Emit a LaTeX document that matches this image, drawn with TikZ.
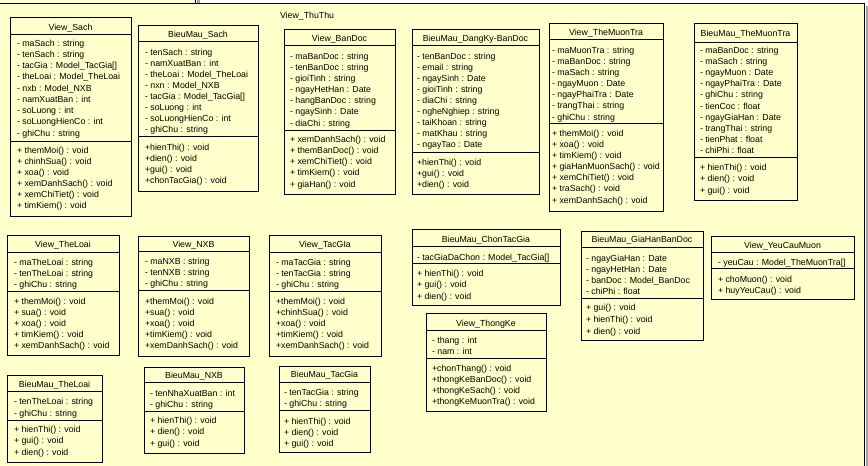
\documentclass[tikz,border=0pt]{standalone}
\usepackage{fontspec}
\setmainfont{Liberation Sans}
\definecolor{pkgfill}{HTML}{FFFFCC}
\definecolor{pkgshade}{HTML}{A0A0A0}
\tikzset{
  classbox/.style={draw=black, line width=0.9pt, fill=pkgfill, inner sep=0pt, outer sep=0pt, anchor=north west},
  umltext/.style={font=\fontsize{8.8}{10}\selectfont, inner sep=0pt, outer sep=0pt},
  row/.style={umltext, anchor=base west},
  ctitle/.style={umltext, anchor=base},
  sepline/.style={line width=0.9pt},
  pkgline/.style={draw=black, line width=0.9pt, fill=pkgfill}
}
% one class: id, left, top, right, bottom, separator 1, separator 2, name, name baseline
\newcommand\umlclass[9]{%
  \node[classbox, minimum width={(#4-#2)*1pt}, minimum height={(#5-#3)*1pt}] (#1) at (#2,#3) {};
  \draw[sepline] (#2,#6) -- (#4,#6);
  \draw[sepline] (#2,#7) -- (#4,#7);
  \node[ctitle] (#1-name) at ({(#2+#4)/2},#9) {#8};
}
% rows of a compartment: id, kind, left, first baseline, spacing, entries
\newcommand\umlrows[6]{%
  \foreach \rowtext [count=\k from 0] in {#6}{%
    \node[row] (#1-#2\k) at (#3,{#4+\k*#5}) {\rowtext};
  }%
}
\begin{document}
\begin{tikzpicture}[x=1pt, y=-1pt]
\useasboundingbox (0,0) rectangle (868,466);
\fill[white] (0,0) rectangle (868,466);

% package frame with its tab and drop shadow
\fill[pkgshade] (197,0) rectangle (200,3);
\fill[pkgshade] (865.5,6) rectangle (868,466);
\draw[pkgline] (-3,-5) rectangle (195,3);
\draw[pkgline] (-3,3) rectangle (864,470);
\node[row] (pkg-name) at (280,18) {View\_ThuThu};

% ---- upper row ----
\umlclass{vsach}{10}{17}{131}{216}{34}{141}{View\_Sach}{30}
\umlrows{vsach}{a}{17}{46}{11.25}{- maSach : string, - tenSach : string, - tacGia : Model\_TacGia[], - theLoai : Model\_TheLoai, - nxb : Model\_NXB, - namXuatBan : int, - soLuong : int, - soLuongHienCo : int, - ghiChu : string}
\umlrows{vsach}{m}{17}{153}{11}{+ themMoi() : void, + chinhSua() : void, + xoa() : void, + xemDanhSach() : void, + xemChiTiet() : void, + timKiem() : void}

\umlclass{bmsach}{138}{25}{258}{191}{41}{136}{BieuMau\_Sach}{37}
\umlrows{bmsach}{a}{145}{55}{11}{- tenSach : string, - namXuatBan : int, - theLoai : Model\_TheLoai, - nxn : Model\_NXB, - tacGia : Model\_TacGia[], - soLuong : int, - soLuongHienCo : int, - ghiChu : string}
\umlrows{bmsach}{m}{145}{150}{11}{+hienThi() : void, +dien() : void, +gui() : void, +chonTacGia() : void}

\umlclass{vbandoc}{284}{29}{395}{194}{45}{130}{View\_BanDoc}{41}
\umlrows{vbandoc}{a}{290}{59}{11.17}{- maBanDoc : string, - tenBanDoc : string, - gioiTinh : string, - ngayHetHan : Date, - hangBanDoc : string, - ngaySinh : Date, - diaChi : string}
\umlrows{vbandoc}{m}{290}{142}{11.25}{+ xemDanhSach() : void, + themBanDoc() : void, + xemChiTiet() : void, + timKiem() : void, + giaHan() : void}

\umlclass{bmdangky}{412}{29}{539}{194}{45}{152}{BieuMau\_DangKy-BanDoc}{41}
\umlrows{bmdangky}{a}{417}{59}{11.1}{- tenBanDoc : string, - email : string, - ngaySinh : Date, - gioiTinh : string, - diaChi : string, - ngheNghiep : string, - taiKhoan : string, - matKhau : string, - ngayTao : Date}
\umlrows{bmdangky}{m}{417}{165}{11}{+hienThi() : void, +gui() : void, +dien() : void}

\umlclass{vmuontra}{549}{23}{663}{211}{39}{123}{View\_TheMuonTra}{35}
\umlrows{vmuontra}{a}{552}{53}{11.17}{- maMuonTra : string, - maBanDoc : string, - maSach : string, - ngayMuon : Date, - ngayPhaiTra : Date, - trangThai : string, - ghiChu : string}
\umlrows{vmuontra}{m}{552}{136}{11.17}{+ themMoi() : void, + xoa() : void, + timKiem() : void, + giaHanMuonSach() : void, + xemChiTiet() : void, + traSach() : void, + xemDanhSach() : void}

\umlclass{bmmuontra}{694}{23}{797}{200}{42}{157}{BieuMau\_TheMuonTra}{36}
\umlrows{bmmuontra}{a}{700}{53}{11.2}{- maBanDoc : string, - maSach : string, - ngayMuon : Date, - ngayPhaiTra : Date, - ghiChu : string, - tienCoc : float, - ngayGiaHan : Date, - trangThai : string, - tienPhat : float, - chiPhi : float}
\umlrows{bmmuontra}{m}{700}{170}{11.5}{+ hienThi() : void, + dien() : void, + gui() : void}

% ---- middle row ----
\umlclass{vtheloai}{7}{235}{119}{355}{252}{291}{View\_TheLoai}{247}
\umlrows{vtheloai}{a}{14}{265}{11}{- maTheLoai : string, - tenTheLoai : string, - ghiChu : string}
\umlrows{vtheloai}{m}{14}{304}{11}{+ themMoi() : void, + sua() : void, + xoa() : void, + timKiem() : void, + xemDanhSach() : void}

\umlclass{vnxb}{138}{236}{249}{356}{251}{290}{View\_NXB}{247}
\umlrows{vnxb}{a}{145}{264}{11}{- maNXB : string, - tenNXB : string, - ghiChu : string}
\umlrows{vnxb}{m}{145}{304}{11}{+themMoi() : void, +sua() : void, +xoa() : void, +timKiem() : void, +xemDanhSach() : void}

\umlclass{vtacgia}{269}{235}{381}{356}{252}{291}{View\_TacGIa}{247}
\umlrows{vtacgia}{a}{276}{265}{11}{- maTacGia : string, - tenTacGia : string, - ghiChu : string}
\umlrows{vtacgia}{m}{276}{304}{11}{+themMoi() : void, +chinhSua() : void, +xoa() : void, +timKiem() : void, +xemDanhSach() : void}

\umlclass{bmchontg}{412}{229}{560}{305}{246}{263}{BieuMau\_ChonTacGia}{242}
\umlrows{bmchontg}{a}{417}{260}{11}{- tacGiaDaChon : Model\_TacGia[]}
\umlrows{bmchontg}{m}{417}{276}{11.5}{+ hienThi() : void, + gui() : void, + dien() : void}

\umlclass{bmgiahan}{581}{231}{703}{340}{247}{298}{BieuMau\_GiaHanBanDoc}{242}
\umlrows{bmgiahan}{a}{586}{261}{11}{- ngayGiaHan : Date, - ngayHetHan : Date, - banDoc : Model\_BanDoc, - chiPhi : float}
\umlrows{bmgiahan}{m}{586}{310}{12}{+ gui() : void, + hienThi() : void, + dien() : void}

\umlclass{vyeucau}{711}{236}{854}{299}{252}{268}{View\_YeuCauMuon}{248}
\umlrows{vyeucau}{a}{718}{265}{11}{- yeuCau : Model\_TheMuonTra[]}
\umlrows{vyeucau}{m}{718}{282}{11}{+ choMuon() : void, + huyYeuCau() : void}

\umlclass{vthongke}{426}{313}{546}{411}{330}{358}{View\_ThongKe}{326}
\umlrows{vthongke}{a}{432}{343}{11}{- thang : int, - nam : int}
\umlrows{vthongke}{m}{432}{371}{11.3}{+chonThang() : void, +thongKeBanDoc() : void, +thongKeSach() : void, +thongKeMuonTra() : void}

% ---- lower row ----
\umlclass{bmtheloai}{7}{375}{102}{462}{391}{420}{BieuMau\_TheLoai}{387}
\umlrows{bmtheloai}{a}{14}{404}{12}{- tenTheLoai : string, - ghiChu : string}
\umlrows{bmtheloai}{m}{14}{432}{11.5}{+ hienThi() : void, + gui() : void, + dien() : void}

\umlclass{bmnxb}{144}{367}{244}{453}{382}{411}{BieuMau\_NXB}{378}
\umlrows{bmnxb}{a}{150}{396}{11}{- tenNhaXuatBan : int, - ghiChu : string}
\umlrows{bmnxb}{m}{150}{423}{11.5}{+ hienThi() : void, + dien() : void, + gui() : void}

\umlclass{bmtacgia}{279}{366}{370}{452}{382}{410}{BieuMau\_TacGia}{377}
\umlrows{bmtacgia}{a}{284}{395}{11}{- tenTacGia : string, - ghiChu : string}
\umlrows{bmtacgia}{m}{284}{424}{11}{+ hienThi() : void, + dien() : void, + gui() : void}
\end{tikzpicture}
\end{document}
